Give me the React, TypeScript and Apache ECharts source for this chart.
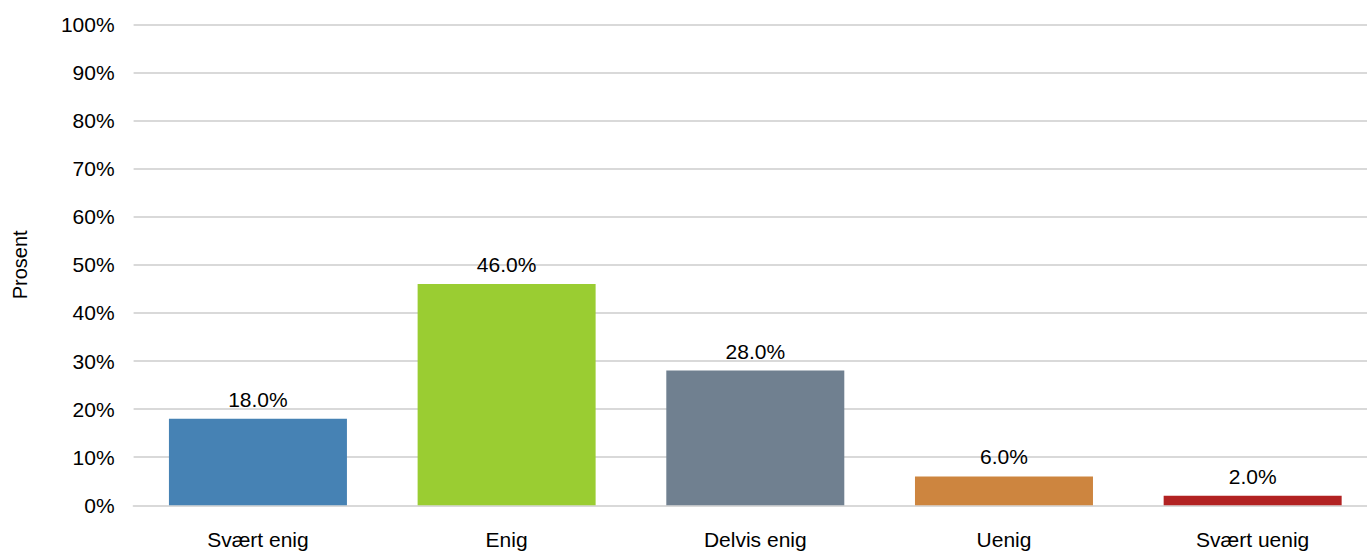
import React, { useEffect, useRef } from "react";
import * as echarts from "echarts";

const categories = ["Svært enig", "Enig", "Delvis enig", "Uenig", "Svært uenig"];
const values = [18.0, 46.0, 28.0, 6.0, 2.0];
const barColors = ["#4682B4", "#9ACD32", "#708090", "#CD853F", "#B22222"];
const yTicks = [0, 10, 20, 30, 40, 50, 60, 70, 80, 90, 100];
const yAxisName = "Prosent";

const FONT = "'Liberation Sans', Arial, sans-serif";

export default function App() {
  const ref = useRef<HTMLDivElement>(null);
  useEffect(() => {
    if (!ref.current) return;
    const chart = echarts.init(ref.current, undefined, { renderer: "svg" });
    chart.setOption({
      animation: false,
      backgroundColor: "#ffffff",
      textStyle: { fontFamily: FONT },
      grid: { left: 133.6, right: 3, top: 24.3, bottom: 46.7, containLabel: false },
      xAxis: {
        type: "category",
        data: categories,
        axisLine: { show: true, lineStyle: { color: "#d9d9d9", width: 2 } },
        axisTick: { show: false },
        axisLabel: { color: "#000", fontSize: 21, fontFamily: FONT, margin: 24, interval: 0 },
      },
      yAxis: {
        type: "value",
        min: yTicks[0],
        max: yTicks[yTicks.length - 1],
        interval: 10,
        name: yAxisName,
        nameLocation: "middle",
        nameRotate: 90,
        nameGap: 104,
        nameTextStyle: { color: "#000", fontSize: 20, fontFamily: FONT },
        axisLine: { show: false },
        axisTick: { show: false },
        splitLine: { show: true, lineStyle: { color: "#d9d9d9", width: 2 } },
        axisLabel: {
          color: "#000",
          fontSize: 21,
          fontFamily: FONT,
          margin: 19,
          formatter: (v: number) => `${v}%`,
        },
      },
      series: [
        {
          type: "bar",
          data: values.map((v, i) => ({ value: v, itemStyle: { color: barColors[i] } })),
          barWidth: 178,
          label: {
            show: true,
            position: "top",
            distance: 9,
            color: "#000",
            fontSize: 21,
            fontFamily: FONT,
            formatter: (p: any) => `${Number(p.value).toFixed(1)}%`,
          },
        },
      ],
    });
    return () => chart.dispose();
  }, []);
  return (
    <div style={{ position: "fixed", left: 0, top: 0, width: 1367, height: 552, overflow: "hidden", background: "#fff" }}>
      <div ref={ref} style={{ width: 1380, height: 552 }} />
    </div>
  );
}
